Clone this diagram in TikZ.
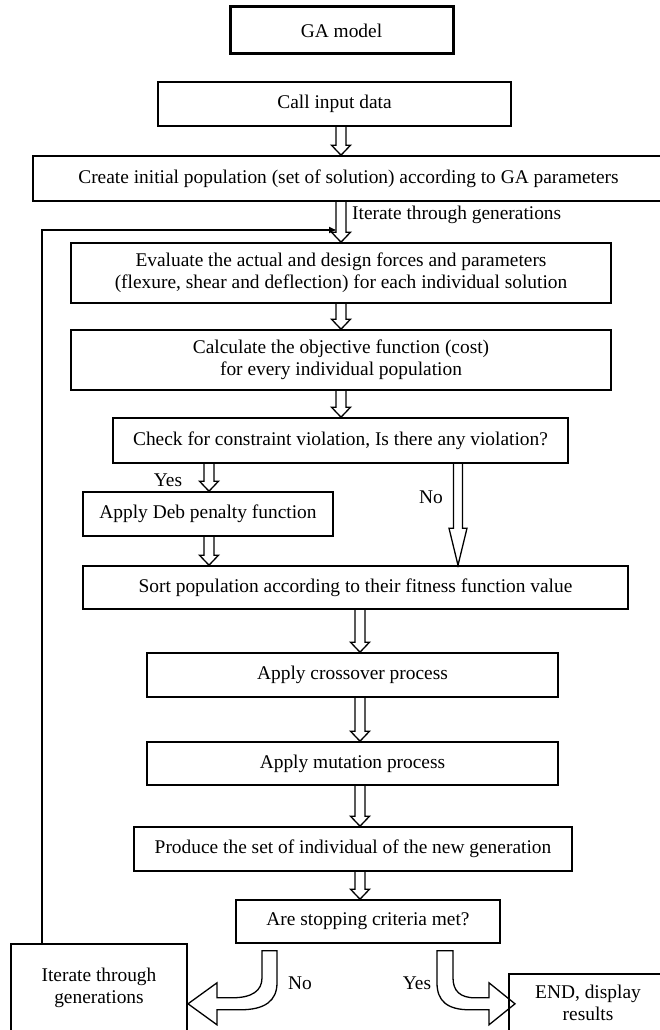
\documentclass[tikz,border=0pt]{standalone}
\usepackage{fontspec}
\setmainfont{Liberation Serif}
\usetikzlibrary{arrows.meta, calc}

\begin{document}
\begin{tikzpicture}[x=1pt, y=-1pt, line join=miter,
		box/.style={draw=black, fill=white, line width=1.6pt, inner sep=0pt, align=center, font=\fontsize{19.4}{22}\selectfont},
		title/.style={box, line width=3pt},
		lbl/.style={inner sep=0pt, font=\fontsize{19.4}{22}\selectfont},
		hollow/.style={draw=black, line width=1.3pt},
		feedback/.style={draw=black, line width=1.6pt, -{Triangle[length=7pt, width=6pt]}}]
	\fill [white] (0, 0) rectangle (660, 1030);
	\useasboundingbox (0, 0) rectangle (660, 1030);
	% Title
	\node [title, minimum width=223, minimum height=47] (ga) at (341.5, 30.5) {GA model};
	% Set up
	\node [box, minimum width=353, minimum height=44] (call) at (334.5, 104) {Call input data};
	\node [box, minimum width=631, minimum height=45] (create) at (348.5, 178.5) {Create initial population (set of solution) according to GA parameters};
	% Evaluation
	\node [box, minimum width=540, minimum height=60] (eval) at (341, 273) {Evaluate the actual and design forces and parameters\\(flexure, shear and deflection) for each individual solution};
	\node [box, minimum width=540, minimum height=60] (calc) at (341, 360) {Calculate the objective function (cost)\\for every individual population};
	\node [box, minimum width=455, minimum height=45] (check) at (340.5, 440.5) {Check for constraint violation, Is there any violation?};
	\node [box, minimum width=250, minimum height=44] (deb) at (208, 514) {Apply Deb penalty function};
	\node [box, minimum width=545, minimum height=43] (sort) at (355.5, 587.5) {Sort population according to their fitness function value};
	% Operators
	\node [box, minimum width=411, minimum height=44] (cross) at (352.5, 675) {Apply crossover process};
	\node [box, minimum width=411, minimum height=43] (mut) at (352.5, 763.5) {Apply mutation process};
	\node [box, minimum width=438, minimum height=44] (prod) at (353, 849) {Produce the set of individual of the new generation};
	\node [box, minimum width=264, minimum height=43] (stop) at (368, 921.5) {Are stopping criteria met?};
	% Outcomes
	\node [box, minimum width=176, minimum height=87.5] (iter) at (99, 987.75) {Iterate through\\generations};
	\node [box, minimum width=158, minimum height=57.5] (end) at (588, 1002.75) {END, display\\results};
	% Labels
	\node [lbl, anchor=west] (lbl-iter) at (352, 215) {Iterate through generations};
	\node [lbl] (lbl-yes-1) at (168, 480) {Yes};
	\node [lbl] (lbl-no-1) at (431, 497) {No};
	\node [lbl] (lbl-no-2) at (300, 983) {No};
	\node [lbl] (lbl-yes-2) at (417, 983) {Yes};
	% Step arrows
	\foreach \src/\dst/\col in {call/create/341, create/eval/341, eval/calc/341, calc/check/341, check/deb/209, deb/sort/209, sort/cross/360, cross/mut/360, mut/prod/360, prod/stop/360}
		\draw [hollow] let \p1 = (\src.south), \p2 = (\dst.north) in
			(\col pt-5pt, \y1) -- (\col pt-5pt, \y2+10pt) -- (\col pt-9.5pt, \y2+10pt) -- (\col pt, \y2)
			-- (\col pt+9.5pt, \y2+10pt) -- (\col pt+5pt, \y2+10pt) -- (\col pt+5pt, \y1);
	% No violation
	\draw [hollow] let \p1 = (check.south), \p2 = (sort.north) in
		(453.5pt, \y1) -- (453.5pt, \y2+37pt) -- (449pt, \y2+37pt) -- (458pt, \y2)
		-- (467pt, \y2+37pt) -- (462.5pt, \y2+37pt) -- (462.5pt, \y1);
	% Loop back
	\coordinate (loop) at (42, 230);
	\draw [feedback] (iter.north -| loop) -- (loop) -- ([xshift=-5pt]loop -| eval.north);
	% Stop decision
	\draw [hollow, shift={(stop.south)}] (-106, 7) -- (-91, 7) -- (-91, 39) .. controls (-91, 57) and (-103, 66) .. (-128, 66)
		-- (-151, 66) -- (-151, 81) -- (-180, 60) -- (-151, 39) -- (-151, 54) -- (-136, 54)
		.. controls (-116, 54) and (-106, 47) .. (-106, 34) -- cycle;
	\draw [hollow, shift={(stop.south)}] (69, 7) -- (85, 7) -- (85, 34) .. controls (85, 47) and (92, 54) .. (107, 54)
		-- (121, 54) -- (121, 39) -- (147, 60) -- (121, 81) -- (121, 66) -- (102, 66)
		.. controls (79, 66) and (69, 57) .. (69, 39) -- cycle;
\end{tikzpicture}
\end{document}
